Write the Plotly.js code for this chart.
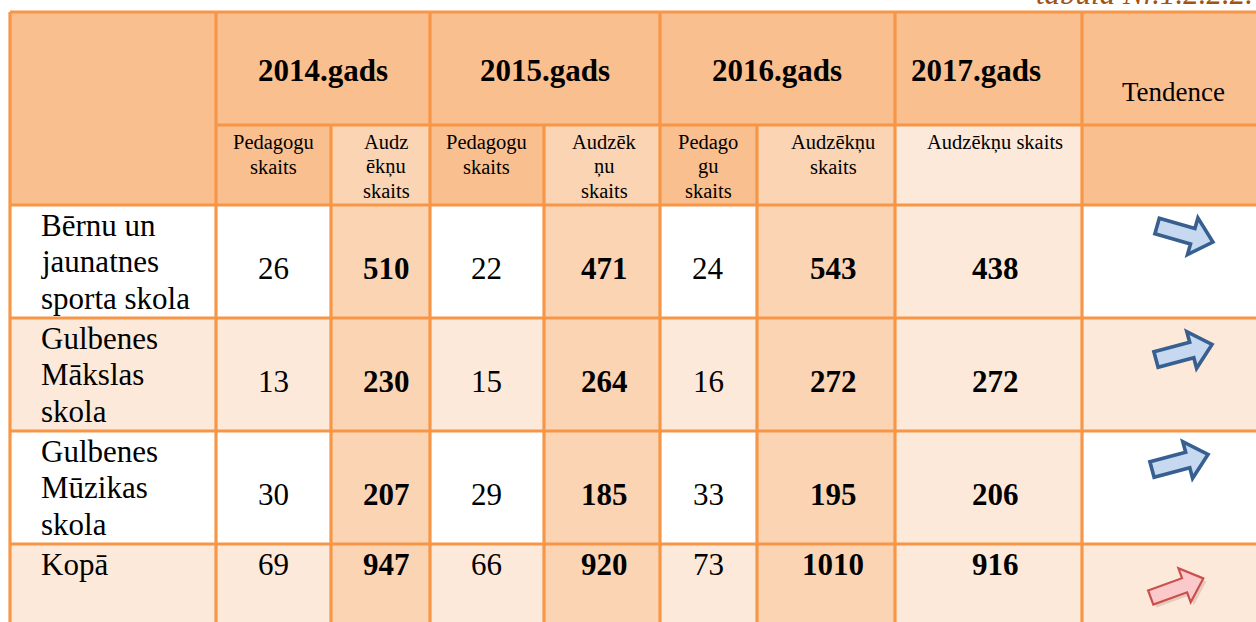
<!DOCTYPE html>
<html><head><meta charset="utf-8">
<script src="https://cdn.plot.ly/plotly-3.0.1.min.js"></script>
<style>html,body{margin:0;padding:0;background:#fff;overflow:hidden}#chart{width:1256px;height:622px}</style>
</head><body><div id="chart"></div>
<script>
// ---------------- data ----------------
const tableCaption = "tabula Nr.1.2.2.2.";
const schools = ["Bērnu un<br>jaunatnes<br>sporta skola", "Gulbenes<br>Mākslas<br>skola", "Gulbenes<br>Mūzikas<br>skola", "Kopā"];
const years = ["2014.gads", "2015.gads", "2016.gads", "2017.gads"];
const trendHeader = "Tendence";
const subHeaders = ["Pedagogu<br>skaits", "Audz<br>ēkņu<br>skaits", "Pedagogu<br>skaits", "Audzēk<br>ņu<br>skaits", "Pedago<br>gu<br>skaits", "Audzēkņu<br>skaits", "Audzēkņu skaits"];
const pedagogi2014 = [26, 13, 30, 69];
const audzekni2014 = [510, 230, 207, 947];
const pedagogi2015 = [22, 15, 29, 66];
const audzekni2015 = [471, 264, 185, 920];
const pedagogi2016 = [24, 16, 33, 73];
const audzekni2016 = [543, 272, 195, 1010];
const audzekni2017 = [438, 272, 206, 916];
const trendDirection = [-1, 1, 1, 1];            // -1 falling, 1 rising
const trendKind = ["school", "school", "school", "total"];

// ---------------- layout / style ----------------
const H = '#FABF8F', M = '#FBD4B4', L = '#FDE9D9', W = '#FFFFFF', B = '#F79646';
const colX = [10, 216, 331, 430, 544, 660, 757, 895, 1082, 1280];
const rowY = [12, 125, 205, 318, 431, 544, 660];
const textX = [40, 273, 386, 486, 604, 708, 833, 995, 1173];
const yearX = [323, 545, 777, 976];
const fillOdd = [W, W, M, W, M, W, M, L, W];
const fillEven = [L, L, M, L, M, L, M, L, L];
const fillSub = [H, H, M, H, M, H, M, L, H];
const serif = 'Liberation Serif, Times New Roman, serif';
const valueColumns = [pedagogi2014, audzekni2014, pedagogi2015, audzekni2015, pedagogi2016, audzekni2016, audzekni2017];
const boldCol = [false, true, false, true, false, true, true];
const arrowCenter = [[1185, 234], [1184, 352], [1180, 462], [1177, 588]];
const arrowTiltDeg = [16, 15, 15, 20];

const shapes = [];
const ann = [];

function rect(x0, x1, y0, y1, c) {
  shapes.push({type: 'rect', xref: 'x', yref: 'y', x0, x1, y0, y1, fillcolor: c, line: {width: 0}, layer: 'below'});
}
function line(x0, y0, x1, y1) {
  shapes.push({type: 'line', xref: 'x', yref: 'y', x0, y0, x1, y1, line: {color: B, width: 3.2}});
}
function lines(text, x, y0, step, font, xanchor) {
  text.split('<br>').forEach((t, i) => ann.push({
    xref: 'x', yref: 'y', x, y: y0 + i * step, text: t, showarrow: false,
    xanchor: xanchor || 'center', yanchor: 'middle', font, borderpad: 0
  }));
}

// header fills
rect(colX[0], colX[9], rowY[0], rowY[1], H);
rect(colX[0], colX[1], rowY[1], rowY[2], H);
for (let c = 1; c < 9; c++) rect(colX[c], colX[c + 1], rowY[1], rowY[2], fillSub[c]);
// body fills
for (let r = 0; r < schools.length; r++) {
  const f = r % 2 === 0 ? fillOdd : fillEven;
  for (let c = 0; c < 9; c++) rect(colX[c], colX[c + 1], rowY[r + 2], rowY[r + 3], f[c]);
}
// borders
line(colX[0], rowY[0], colX[9], rowY[0]);
line(colX[1], rowY[1], colX[9], rowY[1]);
for (let r = 2; r < 6; r++) line(colX[0], rowY[r], colX[9], rowY[r]);
[0, 1, 3, 5, 7, 8].forEach(c => line(colX[c], rowY[0], colX[c], rowY[6]));
[2, 4, 6].forEach(c => line(colX[c], rowY[1], colX[c], rowY[6]));

// header texts
years.forEach((y, i) => lines('<b>' + y + '</b>', yearX[i], 70, 0, {family: serif, size: 31, color: '#000'}));
lines(trendHeader, textX[8], 92, 0, {family: serif, size: 27, color: '#000'});
subHeaders.forEach((s, i) => lines(s, textX[i + 1], 142, 24.5, {family: serif, size: 20.5, color: '#000'}));

// caption (partly above the visible page, as in the source)
ann.push({xref: 'x', yref: 'paper', x: 1254, y: 1 + 7 / 622, text: '<i>' + tableCaption + '</i>', showarrow: false,
  xanchor: 'right', yanchor: 'middle', borderpad: 0, font: {family: serif, size: 31, color: '#A4520F'}});

// body texts
schools.forEach((s, r) => {
  const top = rowY[r + 2];
  const last = r === schools.length - 1;
  lines(s, textX[0], top + 20, 36.5, {family: serif, size: 31, color: '#000'}, 'left');
  valueColumns.forEach((col, c) => {
    const v = String(col[r]);
    lines(boldCol[c] ? '<b>' + v + '</b>' : v, textX[c + 1], last ? top + 20 : top + 63, 0,
      {family: serif, size: 31, color: '#000'});
  });
});

// trend arrows
function arrowPath(cx, cy, ang, Lh, sw, hw, hl) {
  const pts = [[-Lh / 2, -sw / 2], [Lh / 2 - hl, -sw / 2], [Lh / 2 - hl, -hw / 2], [Lh / 2, 0],
               [Lh / 2 - hl, hw / 2], [Lh / 2 - hl, sw / 2], [-Lh / 2, sw / 2]];
  const a = ang * Math.PI / 180, ca = Math.cos(a), sa = Math.sin(a);
  return 'M' + pts.map(p => (cx + p[0] * ca - p[1] * sa).toFixed(1) + ',' + (cy + p[0] * sa + p[1] * ca).toFixed(1)).join(' L') + ' Z';
}
trendDirection.forEach((d, r) => {
  const [cx, cy] = arrowCenter[r];
  const ang = d > 0 ? -arrowTiltDeg[r] : arrowTiltDeg[r];
  if (trendKind[r] === 'total') {
    shapes.push({type: 'path', xref: 'x', yref: 'y', path: arrowPath(cx + 3, cy + 3, ang, 56, 15, 36, 20),
      fillcolor: 'rgba(120,60,60,0.18)', line: {width: 0}});
    shapes.push({type: 'path', xref: 'x', yref: 'y', path: arrowPath(cx, cy, ang, 56, 15, 36, 20),
      fillcolor: '#FBC9C9', line: {color: '#C8504E', width: 2.2}});
  } else {
    shapes.push({type: 'path', xref: 'x', yref: 'y', path: arrowPath(cx, cy, ang, 58, 16, 38, 21),
      fillcolor: '#C6D9F1', line: {color: '#375F8F', width: 3.6}});
  }
});

const layout = {
  width: 1256, height: 622, margin: {l: 0, r: 0, t: 0, b: 0},
  paper_bgcolor: '#fff', plot_bgcolor: '#fff', showlegend: false,
  xaxis: {range: [0, 1256], visible: false, fixedrange: true},
  yaxis: {range: [622, 0], visible: false, fixedrange: true},
  shapes, annotations: ann
};
Plotly.newPlot('chart', [{x: [0], y: [0], mode: 'markers', marker: {opacity: 0}, hoverinfo: 'skip'}], layout, {staticPlot: true, displayModeBar: false});
</script></body></html>
